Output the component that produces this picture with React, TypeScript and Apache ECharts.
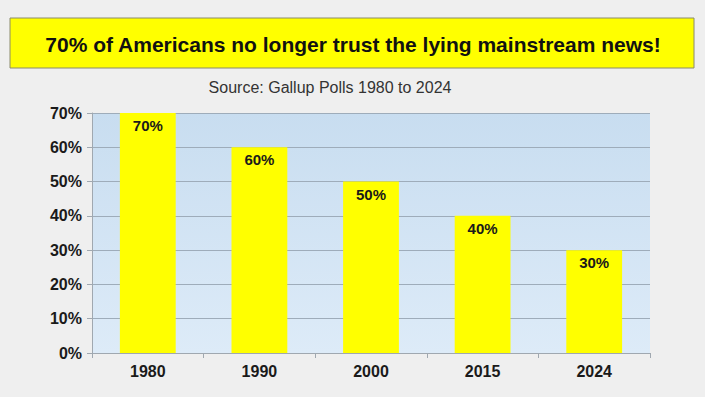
import React, { useEffect, useRef } from "react";
import * as echarts from "echarts";

const years = ["1980", "1990", "2000", "2015", "2024"];
const trustLoss = [70, 60, 50, 40, 30];
const yTicks = { min: 0, max: 70, interval: 10 };
const titleText = "70% of Americans no longer trust the lying mainstream news!";
const subtitleText = "Source: Gallup Polls 1980 to 2024";

export default function App() {
  const ref = useRef<HTMLDivElement>(null);
  useEffect(() => {
    if (!ref.current) return;
    const chart = echarts.init(ref.current, null, { renderer: "svg" });
    chart.setOption({
      animation: false,
      backgroundColor: "#efefef",
      graphic: [
        {
          type: "rect",
          shape: { x: 10, y: 18, width: 684, height: 50 },
          style: { fill: "#ffff00", stroke: "#8a8a6a", lineWidth: 1 },
        },
        {
          type: "text",
          x: 353,
          y: 44,
          style: {
            text: titleText,
            fontFamily: "Liberation Sans",
            fontWeight: "bold",
            fontSize: 21,
            fill: "#111",
            align: "center",
            verticalAlign: "middle",
          },
        },
        {
          type: "text",
          x: 330,
          y: 87,
          style: {
            text: subtitleText,
            fontFamily: "Liberation Sans",
            fontSize: 16,
            fill: "#333",
            align: "center",
            verticalAlign: "middle",
          },
        },
      ],
      grid: {
        left: 92,
        right: 55,
        top: 113,
        bottom: 44,
        show: true,
        borderWidth: 0,
        backgroundColor: new echarts.graphic.LinearGradient(0, 0, 0, 1, [
          { offset: 0, color: "#c8ddf0" },
          { offset: 1, color: "#ddebf8" },
        ]),
      },
      xAxis: {
        type: "category",
        data: years,
        axisLine: { lineStyle: { color: "#a0a8b0" } },
        axisTick: { show: true, length: 5, lineStyle: { color: "#a0a8b0" } },
        axisLabel: {
          color: "#1a1a1a",
          fontFamily: "Liberation Sans",
          fontWeight: "bold",
          fontSize: 16,
          margin: 10,
        },
      },
      yAxis: {
        type: "value",
        min: yTicks.min,
        max: yTicks.max,
        interval: yTicks.interval,
        axisLine: { show: true, lineStyle: { color: "#a0a8b0" } },
        axisTick: { show: true, length: 5, lineStyle: { color: "#a0a8b0" } },
        splitLine: { lineStyle: { color: "#9eacba" } },
        axisLabel: {
          formatter: "{value}%",
          color: "#1a1a1a",
          fontFamily: "Liberation Sans",
          fontWeight: "bold",
          fontSize: 16,
          margin: 10,
        },
      },
      series: [
        {
          type: "bar",
          data: trustLoss,
          barWidth: "50%",
          itemStyle: { color: "#ffff00" },
          label: {
            show: true,
            position: "insideTop",
            distance: 5,
            formatter: "{c}%",
            color: "#1a1a1a",
            fontFamily: "Liberation Sans",
            fontWeight: "bold",
            fontSize: 15,
          },
        },
      ],
    });
    return () => chart.dispose();
  }, []);
  return <div ref={ref} style={{ width: 705, height: 397, position: "fixed", left: 0, top: 0 }} />;
}
